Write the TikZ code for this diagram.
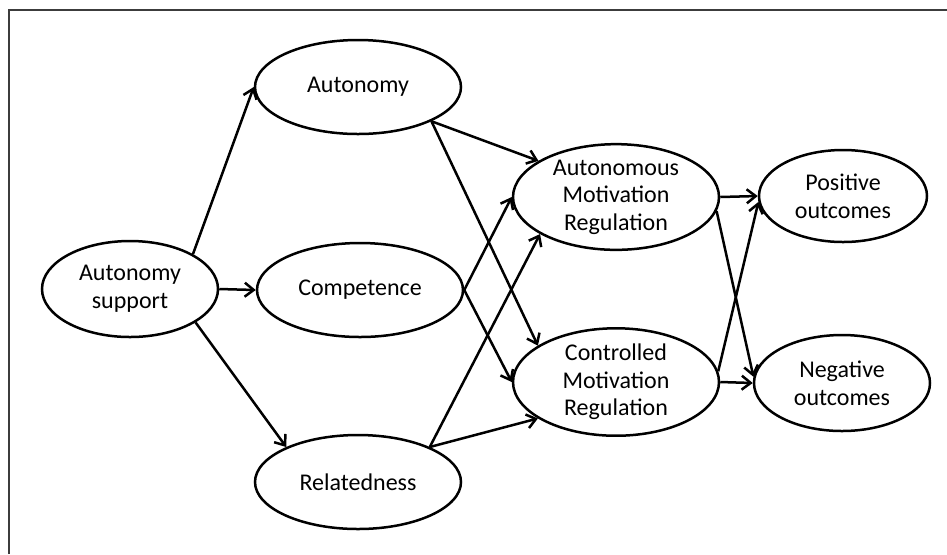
\documentclass[tikz,border=0pt]{standalone}
\usepackage{fontspec}
\setmainfont{Carlito}
\usetikzlibrary{shapes.geometric,arrows.meta}
\definecolor{frame}{RGB}{60,60,60}
\tikzstyle{node}=[ellipse, draw, line width=1.25pt, inner sep=0pt, align=center, font=\fontsize{12}{13.8}\selectfont]
\tikzstyle{wide}=[minimum width=103pt, minimum height=47pt]
\tikzstyle{arrow}=[-{Straight Barb[length=4.5pt,width=7pt]}, line width=1.25pt]

\begin{document}
\begin{tikzpicture}[x=0.5pt,y=-0.5pt]
  \useasboundingbox (0,0) rectangle (947,554);
  \draw[frame, line width=0.8pt] (9,554) -- (9,10) -- (947,10);

  \draw (130,289) node[node,minimum width=88pt,minimum height=48pt] (AS) {Autonomy\\support};

  \draw (358,87) node[node,wide] (Aut) {Autonomy};
  \draw (360,290) node[node,wide] (Comp) {Competence};
  \draw (358,482) node[node,wide] (Rel) {Relatedness};

  \draw (616,195) node[node,wide,yshift=-1pt] (AMR) {Autonomous\\Motivation\\Regulation};
  \draw (616,382) node[node,wide] (CMR) {Controlled\\Motivation\\Regulation};

  \draw (843,196) node[node,minimum width=84pt,minimum height=46pt] (Pos) {Positive\\outcomes};
  \draw (842,383) node[node,minimum width=88pt,minimum height=48pt] (Neg) {Negative\\outcomes};

  %% first layer
  \draw[arrow] (AS.29) -- (Aut.west);
  \draw[arrow] (AS.east) -- (Comp.west);
  \draw[arrow] (AS.-27) -- (Rel.154);

  %% needs to regulation
  \draw[arrow] (Aut.-25) -- (AMR.155);
  \draw[arrow] (Aut.-25) -- (CMR.155);
  \draw[arrow] (Comp.east) -- (AMR.west);
  \draw[arrow] (Comp.east) -- (CMR.west);
  \draw[arrow] (Rel.26) -- (AMR.206);
  \draw[arrow] (Rel.26) -- (CMR.205);

  %% regulation to outcomes
  \draw[arrow] (AMR.east) -- (Pos.west);
  \draw[arrow] (AMR.-8) -- (Neg.176);
  \draw[arrow] (CMR.6) -- (Pos.184);
  \draw[arrow] (CMR.east) -- (Neg.west);
\end{tikzpicture}
\end{document}
